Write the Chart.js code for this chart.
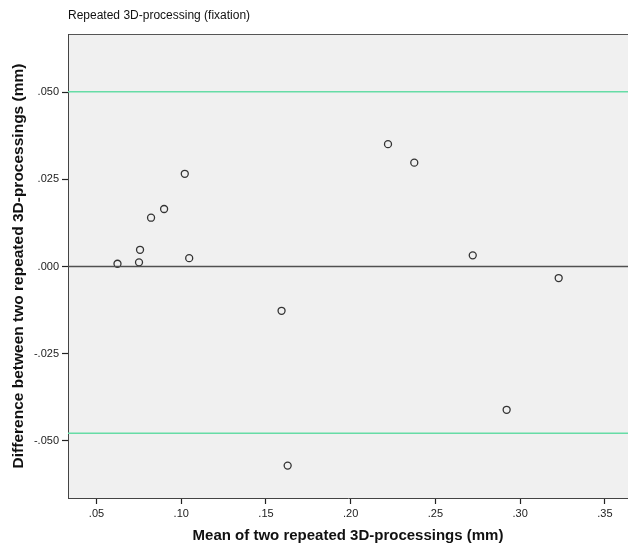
<!DOCTYPE html>
<html>
<head>
<meta charset="utf-8">
<script src="https://cdn.jsdelivr.net/npm/chart.js@4"></script>
<style>
  html, body { margin: 0; padding: 0; background: #fff; }
  #wrap { width: 628px; height: 548px; }
</style>
</head>
<body>
<div id="wrap"><canvas id="baPlot" width="628" height="548"></canvas></div>
<script>
// valores
const meanVals = [0.0624, 0.0751, 0.0757, 0.0822, 0.0899, 0.1021, 0.1047, 0.1592, 0.1628, 0.2220, 0.2375, 0.2720, 0.3227, 0.2920];
const diffVals = [0.0008, 0.0012, 0.0048, 0.0140, 0.0165, 0.0266, 0.0024, -0.0127, -0.0571, 0.0351, 0.0298, 0.0032, -0.0033, -0.0411];
const xTicks = [0.05, 0.10, 0.15, 0.20, 0.25, 0.30, 0.35];
const yTicks = [-0.050, -0.025, 0.000, 0.025, 0.050];
const upperLoA = 0.0501;
const lowerLoA = -0.0478;
const zeroRef = 0;
const xRange = [0.0332, 0.3636];
const yRange = [-0.0664, 0.0667];

document.addEventListener('DOMContentLoaded', function(){
    const ctx = document.getElementById('baPlot');

    const points = meanVals.map((m, i) => ({ x: m, y: diffVals[i] }));
    const hLine = v => [{ x: xRange[0], y: v }, { x: xRange[1], y: v }];

    // fondo gris del area y borde superior
    const plotBg = {
        id: 'plotBg',
        beforeDraw(chart) {
            const a = chart.chartArea;
            const c = chart.ctx;
            c.save();
            c.fillStyle = '#f0f0f0';
            c.fillRect(a.left, a.top, a.right - a.left, a.bottom - a.top);
            c.strokeStyle = '#555';
            c.lineWidth = 1;
            c.beginPath();
            c.moveTo(a.left, a.top + 0.5);
            c.lineTo(a.right, a.top + 0.5);
            c.stroke();
            c.restore();
        }
    };

    const fmt = (v, d) => v.toFixed(d).replace('0.', '.');

    new Chart(ctx, {
        type: 'scatter',
        data: {
            datasets: [
                {
                    type: 'line',
                    data: hLine(upperLoA),
                    borderColor: '#66dca6',
                    borderWidth: 1.5,
                    pointRadius: 0
                },
                {
                    type: 'line',
                    data: hLine(lowerLoA),
                    borderColor: '#66dca6',
                    borderWidth: 1.5,
                    pointRadius: 0
                },
                {
                    type: 'line',
                    data: hLine(zeroRef),
                    borderColor: '#505050',
                    borderWidth: 1.5,
                    pointRadius: 0
                },
                {
                    data: points,
                    pointRadius: 3.5,
                    pointBorderWidth: 1.3,
                    pointBorderColor: '#333',
                    pointBackgroundColor: 'rgba(0,0,0,0)'
                }
            ]
        },
        options: {
            responsive: false,
            animation: false,
            layout: { padding: 0, autoPadding: false },
            plugins: {
                legend: { display: false },
                tooltip: { enabled: false },
                title: {
                    display: true,
                    text: 'Repeated 3D-processing (fixation)',
                    align: 'start',
                    fullSize: false,
                    color: '#111',
                    font: { family: 'Liberation Sans, Arial', size: 12, weight: 'normal' },
                    padding: { top: 8, bottom: 11.6 }
                }
            },
            scales: {
                x: {
                    type: 'linear',
                    min: xRange[0],
                    max: xRange[1],
                    afterBuildTicks: axis => { axis.ticks = xTicks.map(v => ({ value: v })); },
                    afterFit: axis => { axis.height = 50; axis.paddingLeft = 0; axis.paddingRight = 0; },
                    grid: { drawOnChartArea: false, drawTicks: true, tickLength: 6, tickColor: '#222', tickWidth: 1.2 },
                    border: { display: true, color: '#444', width: 1 },
                    ticks: {
                        color: '#222',
                        padding: 3,
                        maxRotation: 0,
                        font: { family: 'Liberation Sans, Arial', size: 11 },
                        callback: v => fmt(v, 2)
                    },
                    title: {
                        display: true,
                        text: 'Mean of two repeated 3D-processings (mm)',
                        color: '#111',
                        font: { family: 'Liberation Sans, Arial', size: 15, weight: 'bold' },
                        padding: { top: 0, bottom: 3 }
                    }
                },
                y: {
                    type: 'linear',
                    min: yRange[0],
                    max: yRange[1],
                    afterBuildTicks: axis => { axis.ticks = yTicks.map(v => ({ value: v })); },
                    afterFit: axis => { axis.width = 68; axis.paddingTop = 0; axis.paddingBottom = 0; },
                    grid: { drawOnChartArea: false, drawTicks: true, tickLength: 6, tickColor: '#222', tickWidth: 1.2 },
                    border: { display: true, color: '#444', width: 1 },
                    ticks: {
                        color: '#222',
                        padding: 3,
                        font: { family: 'Liberation Sans, Arial', size: 11 },
                        callback: v => fmt(v, 3)
                    },
                    title: {
                        display: true,
                        text: 'Difference between two repeated 3D-processings (mm)',
                        color: '#111',
                        font: { family: 'Liberation Sans, Arial', size: 15.5, weight: 'bold' },
                        padding: { top: 9, bottom: 0 }
                    }
                }
            }
        },
        plugins: [plotBg]
    });
});
</script>
</body>
</html>
